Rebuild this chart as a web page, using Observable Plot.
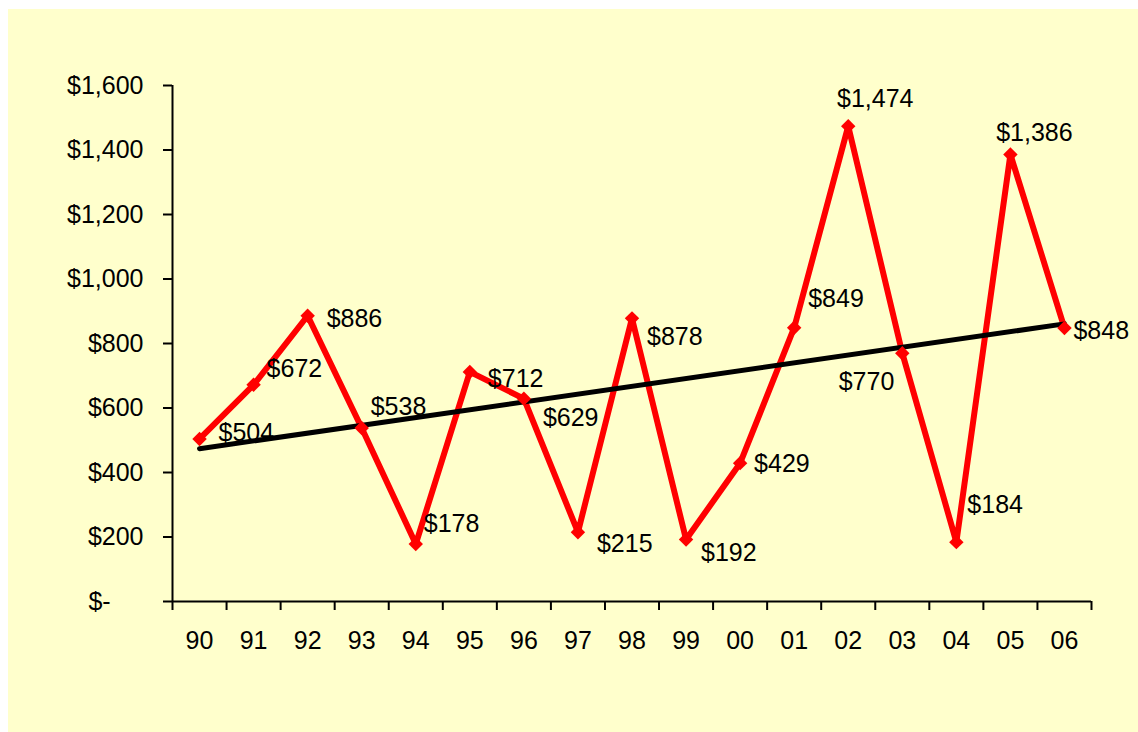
<!DOCTYPE html>
<html>
<head>
<meta charset="utf-8">
<script src="https://cdn.jsdelivr.net/npm/d3@7"></script>
<script src="https://cdn.jsdelivr.net/npm/@observablehq/plot@0.6"></script>
<style>
  html, body { margin: 0; padding: 0; background: #ffffff; overflow: hidden; }
  #wrap { position: relative; width: 1138px; height: 732px; }
  #bg { position: absolute; left: 8px; top: 9px; right: 0; bottom: 0; background: #FFFFCC; }
  #chart { position: absolute; left: 0; top: 0; }
</style>
</head>
<body>
<div id="wrap"><div id="bg"></div><div id="chart"></div></div>
<script>
// ---- data ----
const yearLabels = ["90","91","92","93","94","95","96","97","98","99","00","01","02","03","04","05","06"];
const values = [504, 672, 886, 538, 178, 712, 629, 215, 878, 192, 429, 849, 1474, 770, 184, 1386, 848];
const yTicks = [0, 200, 400, 600, 800, 1000, 1200, 1400, 1600];

// ---- label placement (layout only) ----
const labelPlacement = [
  {dx: 19, dy: -6, anchor: "start"},
  {dx: 13, dy: -16, anchor: "start"},
  {dx: 19, dy: 3, anchor: "start"},
  {dx: 9, dy: -21, anchor: "start"},
  {dx: 8, dy: -20, anchor: "start"},
  {dx: 18, dy: 7, anchor: "start"},
  {dx: 19, dy: 19, anchor: "start"},
  {dx: 19, dy: 12, anchor: "start"},
  {dx: 15, dy: 19, anchor: "start"},
  {dx: 15, dy: 13, anchor: "start"},
  {dx: 14, dy: 1, anchor: "start"},
  {dx: 14, dy: -29, anchor: "start"},
  {dx: 27, dy: -27, anchor: "middle"},
  {dx: -8, dy: 29, anchor: "end"},
  {dx: 11, dy: -37, anchor: "start"},
  {dx: 24, dy: -22, anchor: "middle"},
  {dx: 9, dy: 3, anchor: "start"}
];

const data = values.map((v, i) => ({i, v, label: "$" + d3.format(",")(v)}));
const boundaries = d3.range(yearLabels.length + 1).map(k => k - 0.5);
const centers = d3.range(yearLabels.length);
const fmtY = v => v === 0 ? "$-\u2007\u2007\u2009" : "$" + d3.format(",")(v);
const FONT = 25;

const labelMarks = data.map((d, k) => Plot.text([d], {
  x: "i", y: "v", text: "label",
  dx: labelPlacement[k].dx, dy: labelPlacement[k].dy,
  textAnchor: labelPlacement[k].anchor,
  fontSize: FONT, fill: "#000000"
}));

const chart = Plot.plot({
  width: 1138,
  height: 732,
  marginLeft: 172,
  marginRight: 47,
  marginTop: 85,
  marginBottom: 131,
  style: {background: "transparent", fontFamily: "'Liberation Sans', Arial, sans-serif", color: "#000000", overflow: "visible"},
  x: {type: "linear", domain: [-0.5, yearLabels.length - 0.5]},
  y: {domain: [0, 1600]},
  marks: [
    Plot.axisY({ticks: yTicks, tickSize: 9, tickPadding: 20, tickFormat: fmtY, fontSize: FONT, strokeWidth: 2, label: null}),
    Plot.axisX({ticks: boundaries, tickSize: 9, tickFormat: () => "", strokeWidth: 2, label: null}),
    Plot.axisX({ticks: centers, tickSize: 0, tickPadding: 30, tickFormat: i => yearLabels[i], fontSize: FONT, label: null}),
    Plot.ruleX([-0.5], {y1: 0, y2: 1600, stroke: "#000000", strokeWidth: 2}),
    Plot.ruleY([0], {x1: -0.5, x2: yearLabels.length - 0.5, stroke: "#000000", strokeWidth: 2}),
    Plot.line(data, {x: "i", y: "v", stroke: "#FF0000", strokeWidth: 6}),
    Plot.linearRegressionY(data, {x: "i", y: "v", stroke: "#000000", strokeWidth: 5, ci: 0}),
    Plot.dot(data, {x: "i", y: "v", symbol: "diamond2", r: 6.5, fill: "#FF0000", stroke: "none"}),
    ...labelMarks
  ]
});
document.getElementById("chart").appendChild(chart);
</script>
</body>
</html>
